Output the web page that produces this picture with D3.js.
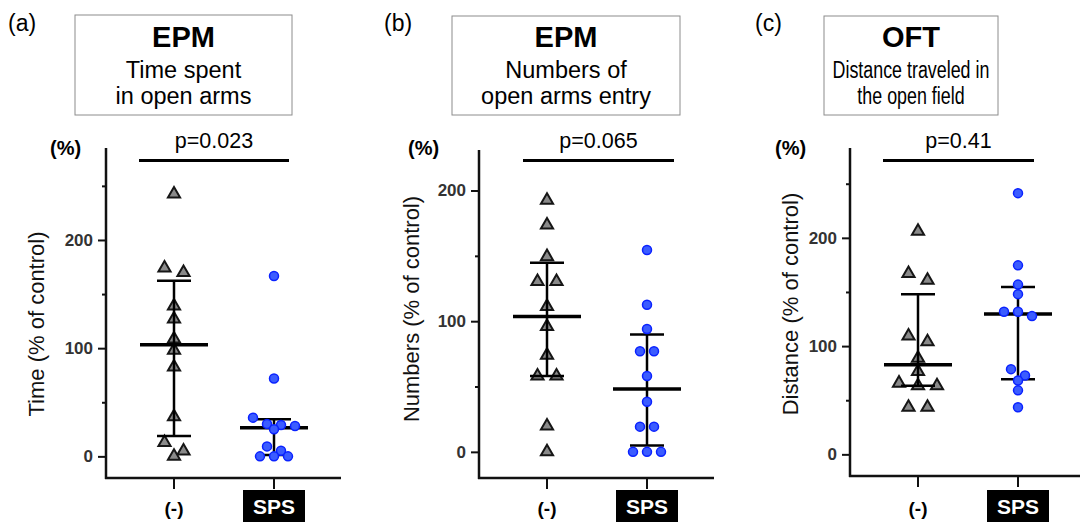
<!DOCTYPE html>
<html>
<head>
<meta charset="utf-8">
<script src="https://cdn.jsdelivr.net/npm/d3@7"></script>
<style>
  body { margin: 0; background: #fff; }
  svg { display: block; font-family: "Liberation Sans", Arial, sans-serif; }
</style>
</head>
<body>
<div id="chart"></div>
<script>
// groups on the x axis
var groups = ["(-)", "SPS"];

// (a) EPM time spent in open arms, % of control
var timeCtrl = [242.5, 174, 170, 139, 127, 108.5, 98, 82.5, 36.7, 12.8, 5, 0];
var timeSps = [166.7, 71.9, 35.8, 30, 29, 28, 25, 9.2, 5.2, 0, 0, 0];

// (b) EPM numbers of open arms entry, % of control
var entryCtrl = [192.6, 173.6, 149.4, 130.4, 130.4, 111.3, 96, 74, 58, 58, 19.8, 0];
var entrySps = [154.5, 112.6, 94, 77, 77, 58, 38.4, 19.3, 19.3, 0, 0, 0];

// (c) OFT distance travelled, % of control
var distCtrl = [206, 167, 160.8, 109.3, 104, 88.8, 76.6, 65.8, 63.4, 63.4, 43.5, 43.5];
var distSps = [241.3, 174.6, 156.8, 148, 131.7, 131.7, 127.7, 78.7, 72.9, 68.3, 59.1, 43.5];

var panelLabels = ["(a)", "(b)", "(c)"];
var titleMain = ["EPM", "EPM", "OFT"];
var titleLines = [["Time spent", "in open arms"], ["Numbers of", "open arms entry"], ["Distance traveled in", "the open field"]];
var yTitles = ["Time (% of control)", "Numbers (% of control)", "Distance (% of control)"];
var pLabels = ["p=0.023", "p=0.065", "p=0.41"];
var majorTicks = [0, 100, 200];
var minorTicks = [50, 150, 250];

var width = 1080, height = 522;

var svg = d3.select("#chart")
  .append("svg")
  .attr("width", width)
  .attr("height", height);

// layout of the three panels (squeeze = horizontal narrowing of the box text)
var panels = [
  { ctrl: timeCtrl, sps: timeSps, x0: 106, yMax: 285, yBottom: 478, yTop: 148,
    box: [75, 15, 217, 100], squeeze: 1, lab: 8, pct: 50, yt: [44, 324], br: [33, 183] },
  { ctrl: entryCtrl, sps: entrySps, x0: 479, yMax: 231, yBottom: 478, yTop: 150,
    box: [452, 16, 228, 99], squeeze: 1, lab: 384, pct: 408, yt: [419, 309], br: [44, 195] },
  { ctrl: distCtrl, sps: distSps, x0: 850, yMax: 283, yBottom: 476, yTop: 148,
    box: [824, 16, 174, 99], squeeze: 0.76, lab: 755, pct: 775, yt: [798, 304], br: [33, 184] }
];

// Prism style quartile, (n+1) method
function quart(vals, p) {
  var s = vals.slice().sort(d3.ascending);
  var pos = (s.length + 1) * p - 1;
  var lo = Math.floor(pos), hi = Math.ceil(pos);
  if (lo < 0) return s[0];
  if (hi >= s.length) return s[s.length - 1];
  return s[lo] + (pos - lo) * (s[hi] - s[lo]);
}

// row based scatter: values close to the first of a row share it and spread symmetrically
function swarm(vals, y, gap, step) {
  var pts = vals.map(function(v) { return { v: v, py: y(v) }; });
  pts.sort(function(a, b) { return a.py - b.py; });
  var rows = [], cur = null;
  pts.forEach(function(p) {
    if (cur && p.py - cur[0].py < gap) cur.push(p);
    else { cur = [p]; rows.push(cur); }
  });
  rows.forEach(function(r) {
    r.forEach(function(p, i) { p.dx = (i - (r.length - 1) / 2) * step; });
  });
  return pts;
}

var tri = d3.symbol().type(d3.symbolTriangle).size(64);

panels.forEach(function(pn, k) {
  var g = svg.append("g");

  var y = d3.scaleLinear()
    .domain([-20, pn.yMax])
    .range([pn.yBottom, pn.yTop]);

  var x = d3.scalePoint()
    .domain(groups)
    .range([pn.x0 + 68, pn.x0 + 168]);

  // panel letter
  g.append("text")
    .attr("x", pn.lab).attr("y", 31)
    .attr("font-size", 23)
    .text(panelLabels[k]);

  // title box
  g.append("rect")
    .attr("x", pn.box[0]).attr("y", pn.box[1])
    .attr("width", pn.box[2]).attr("height", pn.box[3])
    .attr("fill", "#fff")
    .attr("stroke", "#8c8c8c")
    .attr("stroke-width", 1);
  var cx = pn.box[0] + pn.box[2] / 2;
  g.append("text")
    .attr("x", cx).attr("y", 47)
    .attr("text-anchor", "middle")
    .attr("font-size", 29).attr("font-weight", "bold")
    .text(titleMain[k]);
  titleLines[k].forEach(function(t, i) {
    var line = g.append("text")
      .attr("x", cx).attr("y", 78 + i * 26)
      .attr("text-anchor", "middle")
      .attr("font-size", 23.5)
      .text(t);
    if (pn.squeeze !== 1) {
      var w = line.node().getComputedTextLength();
      line.attr("textLength", w * pn.squeeze).attr("lengthAdjust", "spacingAndGlyphs");
    }
  });

  // y axis
  var leftAxis = d3.axisLeft(y).tickValues(majorTicks).tickSize(8).tickPadding(5);
  var yAxis = g.append("g")
    .attr("transform", "translate(" + pn.x0 + ",0)")
    .call(leftAxis);
  yAxis.select(".domain").remove();
  yAxis.selectAll(".tick line").attr("stroke", "#111").attr("stroke-width", 2);
  yAxis.selectAll(".tick text")
    .attr("font-family", "Liberation Sans, Arial, sans-serif")
    .attr("font-size", 17).attr("font-weight", "bold")
    .attr("fill", "#333");

  var minorAxis = d3.axisLeft(y)
    .tickValues(minorTicks.filter(function(t) { return t < pn.yMax; }))
    .tickSize(4).tickFormat("");
  var ym = g.append("g")
    .attr("transform", "translate(" + pn.x0 + ",0)")
    .call(minorAxis);
  ym.select(".domain").remove();
  ym.selectAll(".tick line").attr("stroke", "#111").attr("stroke-width", 2);

  g.append("line")
    .attr("x1", pn.x0).attr("x2", pn.x0)
    .attr("y1", pn.yTop).attr("y2", pn.yBottom + 1)
    .attr("stroke", "#111").attr("stroke-width", 2.5);

  // x axis
  g.append("line")
    .attr("x1", pn.x0 - 1).attr("x2", pn.x0 + 235)
    .attr("y1", pn.yBottom).attr("y2", pn.yBottom)
    .attr("stroke", "#111").attr("stroke-width", 2.5);
  g.selectAll(".xtick")
    .data(groups)
    .enter()
    .append("line")
    .attr("x1", d => x(d)).attr("x2", d => x(d))
    .attr("y1", pn.yBottom).attr("y2", pn.yBottom + 11)
    .attr("stroke", "#111").attr("stroke-width", 2);

  g.append("text")
    .attr("x", x(groups[0])).attr("y", 515)
    .attr("text-anchor", "middle")
    .attr("font-size", 19).attr("font-weight", "bold")
    .text(groups[0]);
  g.append("rect")
    .attr("x", x(groups[1]) - 31).attr("y", 490)
    .attr("width", 62).attr("height", 32)
    .attr("fill", "#000");
  g.append("text")
    .attr("x", x(groups[1])).attr("y", 514)
    .attr("text-anchor", "middle")
    .attr("font-size", 21).attr("font-weight", "bold")
    .attr("fill", "#fff")
    .text(groups[1]);

  // y title and unit
  g.append("text")
    .attr("transform", "translate(" + pn.yt[0] + "," + pn.yt[1] + ") rotate(-90)")
    .attr("text-anchor", "middle")
    .attr("font-size", 22)
    .attr("fill", "#111")
    .text(yTitles[k]);
  g.append("text")
    .attr("x", pn.pct).attr("y", 155)
    .attr("font-size", 20).attr("font-weight", "bold")
    .text("(%)");

  // p value bracket
  g.append("line")
    .attr("x1", pn.x0 + pn.br[0]).attr("x2", pn.x0 + pn.br[1])
    .attr("y1", 160.5).attr("y2", 160.5)
    .attr("stroke", "#000").attr("stroke-width", 3);
  g.append("text")
    .attr("x", pn.x0 + (pn.br[0] + pn.br[1]) / 2).attr("y", 148)
    .attr("text-anchor", "middle")
    .attr("font-size", 21.5)
    .text(pLabels[k]);

  function summary(vals, gx) {
    var med = quart(vals, 0.5), q1 = quart(vals, 0.25), q3 = quart(vals, 0.75);
    g.append("line")
      .attr("x1", gx).attr("x2", gx)
      .attr("y1", y(q1)).attr("y2", y(q3))
      .attr("stroke", "#000").attr("stroke-width", 2.5);
    [q1, q3].forEach(function(q) {
      g.append("line")
        .attr("x1", gx - 17).attr("x2", gx + 17)
        .attr("y1", y(q)).attr("y2", y(q))
        .attr("stroke", "#000").attr("stroke-width", 2.5);
    });
    g.append("line")
      .attr("x1", gx - 34).attr("x2", gx + 34)
      .attr("y1", y(med)).attr("y2", y(med))
      .attr("stroke", "#000").attr("stroke-width", 3.5);
  }

  // control group: triangles
  var cgx = x(groups[0]);
  g.selectAll(".tri")
    .data(swarm(pn.ctrl, y, 9.5, 19))
    .enter()
    .append("path")
    .attr("d", tri)
    .attr("transform", d => "translate(" + (cgx + d.dx) + "," + d.py + ")")
    .attr("fill", "#8a8a8a")
    .attr("stroke", "#161616")
    .attr("stroke-width", 2);
  summary(pn.ctrl, cgx);

  // SPS group: blue dots
  var sgx = x(groups[1]);
  summary(pn.sps, sgx);
  g.selectAll(".dot")
    .data(swarm(pn.sps, y, 9.5, 14))
    .enter()
    .append("circle")
    .attr("cx", d => sgx + d.dx)
    .attr("cy", d => d.py)
    .attr("r", 4.5)
    .attr("fill", "#3b5cff")
    .attr("stroke", "#0a22ff")
    .attr("stroke-width", 1.5);
});
</script>
</body>
</html>
